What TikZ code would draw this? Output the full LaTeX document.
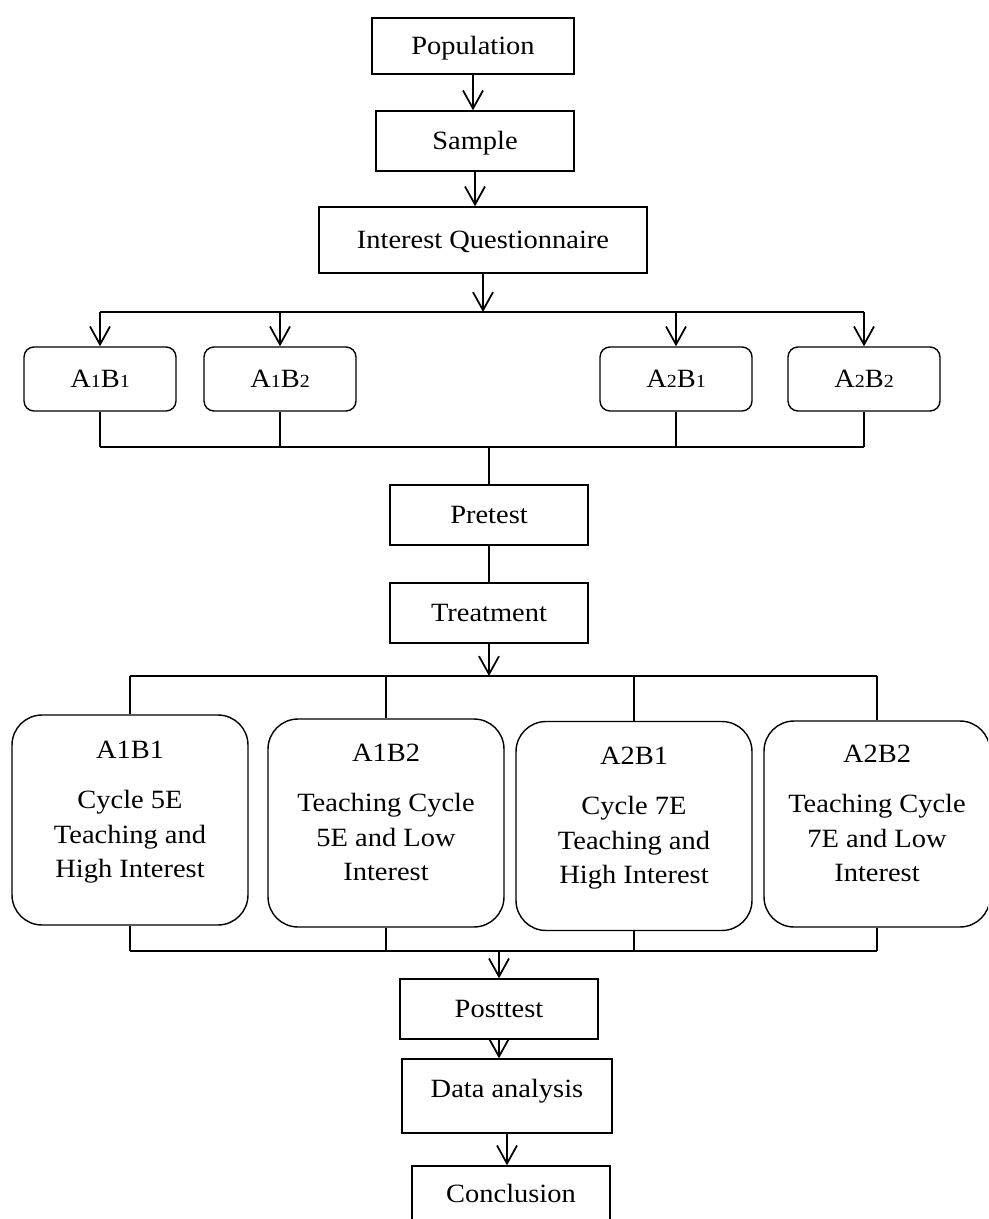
\documentclass[tikz,border=0pt]{standalone}
\usepackage{fontspec}
\setmainfont{Liberation Serif}[FakeStretch=1.08]
\usetikzlibrary{arrows.meta}
\newcommand{\grp}[2]{A{\fontsize{10.5}{10}\selectfont #1}B{\fontsize{10.5}{10}\selectfont #2}}
\newcommand{\lowpad}{\rule[-12pt]{0pt}{12pt}}

\begin{document}
\begin{tikzpicture}[x=0.02cm, y=-0.02cm,
  every node/.style={font=\fontsize{15}{19.5}\selectfont},
  box/.style={draw, line width=0.8pt, inner sep=0pt, text height=9.8pt, text depth=0pt,
    minimum width=3.96cm, minimum height=1.2cm},
  gbox/.style={box, rounded corners=0.2cm, minimum width=3.04cm, minimum height=1.28cm},
  bigbox/.style={draw, line width=0.8pt, rounded corners=0.6cm, inner sep=0pt, align=center,
    minimum width=4.72cm, minimum height=4.2cm},
  arr/.style={-{Straight Barb[length=0.36cm, width=0.4cm, line width=1pt]}, line width=1pt},
  link/.style={line width=1pt}]
\clip (0,0) rectangle (988,1219);

\node[box, minimum width=4.04cm, minimum height=1.12cm] (pop) at (473,46) {Population};
\node[box] (sample) at (475,141) {Sample};
\node[box, minimum width=6.56cm, minimum height=1.32cm] (quest) at (483,240) {Interest Questionnaire};
\node[gbox] (a11) at (100,379) {\grp{1}{1}};
\node[gbox] (a12) at (280,379) {\grp{1}{2}};
\node[gbox] (a21) at (676,379) {\grp{2}{1}};
\node[gbox] (a22) at (864,379) {\grp{2}{2}};
\node[box] (pre) at (489,515) {Pretest};
\node[box] (treat) at (489,613) {Treatment};
\node[bigbox] (g11) at (130,820) {A1B1\\[9pt]Cycle 5E\\Teaching and\\High Interest\lowpad};
\node[bigbox, minimum height=4.16cm] (g12) at (386,823) {A1B2\\[9pt]Teaching Cycle\\5E and Low\\Interest\lowpad};
\node[bigbox, minimum height=4.18cm] (g21) at (634,826) {A2B1\\[9pt]Cycle 7E\\Teaching and\\High Interest\lowpad};
\node[bigbox, minimum width=4.52cm, minimum height=4.12cm] (g22) at (877,824) {A2B2\\[9pt]Teaching Cycle\\7E and Low\\Interest\lowpad};
\node[box] (post) at (499,1009) {Posttest};
\node[box, minimum width=4.2cm, minimum height=0pt, text height=0.76cm, text depth=0.72cm, anchor=base] (data) at (507,1097) {Data analysis};
\node[box, minimum height=0pt, text height=0.72cm, text depth=0.5cm, anchor=base] (concl) at (511,1202) {Conclusion};

\coordinate (split) at (483,312);
\coordinate (join) at (483,447);
\coordinate (split2) at (489,676);
\coordinate (join2) at (499,951);

\draw[arr] (pop.south) -- (pop.south |- sample.north);
\draw[arr] (sample.south) -- (sample.south |- quest.north);
\draw[arr] (quest.south) -- (quest.south |- split);
\draw[link] (a11.north |- split) -- (a22.north |- split);
\foreach \g in {a11,a12,a21,a22}
  \draw[arr] (\g.north |- split) -- (\g.north);
\foreach \g in {a11,a12,a21,a22}
  \draw[link] (\g.south) -- (\g.south |- join);
\draw[link] (a11.south |- join) -- (a22.south |- join);
\draw[link] (pre.north |- join) -- (pre.north);
\draw[link] (pre) -- (treat);
\draw[arr] (treat.south) -- (treat.south |- split2);
\draw[link] (g11.north |- split2) -- (g22.north |- split2);
\foreach \g in {g11,g12,g21,g22}
  \draw[link] (\g.north |- split2) -- (\g.north);
\foreach \g in {g11,g12,g21,g22}
  \draw[link] (\g.south) -- (\g.south |- join2);
\draw[link] (g11.south |- join2) -- (g22.south |- join2);
\draw[arr] (post.north |- join2) -- (post.north);
\draw[arr] (post.south) -- (post.south |- data.north);
\draw[arr] (data.south) -- (data.south |- concl.north);
\end{tikzpicture}
\end{document}
